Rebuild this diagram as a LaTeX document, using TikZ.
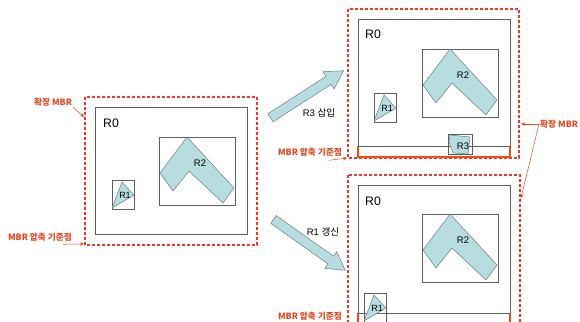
\documentclass[tikz,border=0pt]{standalone}
\usepackage{fontspec}
\setmainfont{Liberation Sans}
\newfontfamily\krfont{Noto Sans CJK KR}
\usetikzlibrary{arrows.meta,shapes.arrows,calc}

\definecolor{mbrred}{RGB}{242,52,45}
\definecolor{lblred}{RGB}{232,70,32}
\definecolor{stripor}{RGB}{250,72,20}
\definecolor{regfill}{RGB}{183,221,224}
\definecolor{regline}{RGB}{110,125,125}
\definecolor{boxgray}{RGB}{95,95,95}

\begin{document}
\begin{tikzpicture}[x=1pt, y=-1pt,
  extmbr/.style={draw=mbrred, dash pattern=on 3pt off 2pt, line width=1.1pt},
  mbrbox/.style={draw=boxgray, line width=0.7pt},
  region/.style={draw=regline, fill=regfill, line width=0.5pt, line join=round},
  strip/.style={draw=stripor, line width=1.5pt},
  rlab/.style={font=\fontsize{9.5}{10}\selectfont, inner sep=0pt},
  toplab/.style={font=\fontsize{12.3}{13}\selectfont, inner sep=0pt, anchor=west},
  redlab/.style={font=\krfont\bfseries\fontsize{8.7}{9}\selectfont, text=lblred, inner sep=1pt},
  oplab/.style={font=\fontsize{9.5}{10}\selectfont, inner sep=1pt},
  callout/.style={draw=lblred, line width=0.5pt, -{Stealth[length=4pt,width=3.5pt]}},
  bigarrow/.style={single arrow, draw=regline, fill=regfill, line width=0.5pt,
                   inner xsep=0pt, inner ysep=4.5pt, single arrow head extend=5.5pt,
                   single arrow tip angle=60}
]
\useasboundingbox (0,0) rectangle (580,321);
\clip (0,0) rectangle (580,321);

% extended MBRs
\draw[extmbr] (85,97) rectangle (257,245);
\draw[extmbr] (348,9) rectangle (519,158);
\draw[extmbr] (348,175) rectangle (520,340);

% root nodes R0
\draw[mbrbox] (95,107) rectangle (247,234);
\draw[mbrbox] (358,19) rectangle (510,157);
\draw[mbrbox] (358,185) rectangle (510,340);
\node[toplab] (r0a) at (103,123) {R0};
\node[toplab] (r0b) at (365,34) {R0};
\node[toplab] (r0c) at (365,201) {R0};

% compression strips
\draw[strip] (358,146) -- (358,157) -- (510,157) -- (510,146);
\draw[mbrbox] (358,146) -- (510,146);
\draw[strip] (358,313) -- (358,340);
\draw[strip] (510,313) -- (510,340);
\draw[mbrbox] (358,313) -- (510,313);

% R2 in each panel
\foreach \px/\py/\nm in {159/137/a, 422/49/b, 422/214/c} {
  \begin{scope}[shift={(\px,\py)}]
    \draw[mbrbox] (0,0) rectangle (76,68);
    \draw[region] (28,0) -- (75,51) -- (64,66) -- (30,34) -- (14,54) -- (1,36) -- cycle;
    \node[rlab] (r2\nm) at (41,26) {R2};
  \end{scope}
}

% R1 in each panel
\foreach \px/\py/\nm in {112/180/a, 374/93/b, 364/293/c} {
  \begin{scope}[shift={(\px,\py)}]
    \draw[mbrbox] (0,0) rectangle (22,29);
    \draw[region] (10,2) -- (22,15) -- (0,28) -- cycle;
    \node[rlab, font=\fontsize{9}{10}\selectfont] (r1\nm) at (13,15) {R1};
  \end{scope}
}

% inserted R3
\draw[mbrbox] (448,134) rectangle (472,154);
\draw[region] (450,135) -- (470,137) -- (468,154) -- (453,153) -- (449,142) -- cycle;
\node[rlab] (r3) at (463,146) {R3};

% operations
\node[bigarrow, minimum height=87pt, rotate=32.8] (insArrow) at (303.5,96.5) {};
\node[bigarrow, minimum height=88pt, rotate=-35.3] (updArrow) at (306,242.5) {};
\node[oplab] (ins) at (319,113) {R3 {\krfont 삽입}};
\node[oplab] (upd) at (323,232) {R1 {\krfont 갱신}};

% callouts
\node[redlab] (extL) at (53,102) {확장 MBR};
\node[redlab] (cmpL) at (40,237) {MBR 압축 기준점};
\node[redlab] (cmpR1) at (310,152) {MBR 압축 기준점};
\node[redlab] (cmpR2) at (310,316) {MBR 압축 기준점};
\node[redlab, anchor=west] (extR) at (539,124) {확장 MBR};
\coordinate (extLpt) at (84,117);
\coordinate (cmpLpt) at (84,244);
\coordinate (cmpR1pt) at (347,158);
\coordinate (extRpt1) at (521,124);
\coordinate (extRpt2) at (521,198);
\draw[callout] (extL.south east) -- (extLpt);
\draw[callout] ($(cmpL.south east)+(-10,2)$) -- (cmpLpt);
\draw[callout] ($(cmpR1.south east)+(-14,3)$) -- (cmpR1pt);
\draw[callout] (extR.west) -- (extRpt1);
\draw[callout] (extR.west) -- (extRpt2);
\end{tikzpicture}
\end{document}
